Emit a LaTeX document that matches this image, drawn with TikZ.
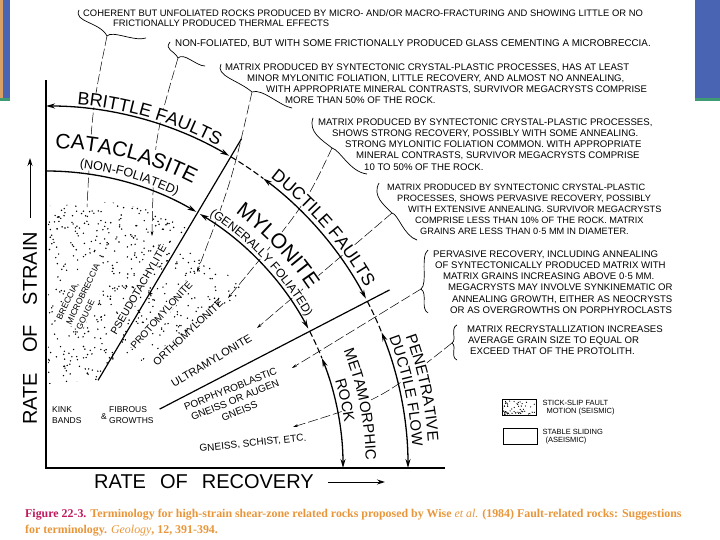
\documentclass[tikz,border=0pt]{standalone}
\usepackage{fontspec}
\setmainfont{Liberation Serif}
\setsansfont{Liberation Sans}
\usetikzlibrary{arrows.meta, decorations.text, calc}

\definecolor{barblue}{HTML}{4A64B4}
\definecolor{bargreen}{HTML}{3E9B73}
\definecolor{barorange}{HTML}{D9A066}
\definecolor{figred}{HTML}{C0185C}
\definecolor{figorange}{HTML}{E8963A}

\newcommand{\notefont}{\sffamily\fontsize{9.6}{11.2}\selectfont}
\newcommand{\lblfont}{\sffamily\fontsize{10}{12}\selectfont}
\newcommand{\arcfont}[1]{\sffamily\fontsize{#1}{#1}\selectfont}

\begin{document}
\begin{tikzpicture}[
    x=1pt, y=1pt,
    axis/.style={line width=1.6pt},
    axarrow/.style={line width=0.9pt, -{Stealth[length=8pt,width=5pt]}},
    fault/.style={line width=1.3pt, {Stealth[length=9pt,width=5pt]}-{Stealth[length=9pt,width=5pt]}},
    onefault/.style={line width=1.3pt, -{Stealth[length=9pt,width=5pt]}},
    gap/.style={line width=1.1pt, dash pattern=on 6pt off 3pt},
    ray/.style={line width=1.2pt},
    leader/.style={line width=0.5pt, dash pattern=on 10pt off 3pt},
    lead/.style={leader, -{Stealth[length=5pt,width=2.8pt]}},
    brc/.style={line width=0.7pt},
    wipe/.style={draw=white, line width=#1},
    note/.style={font=\notefont, align=left, anchor=north west, inner sep=0pt},
    lbl/.style={font=\lblfont, inner sep=0pt},
    dotlbl/.style={fill=white, inner sep=1pt},
    small/.style={font=\sffamily\fontsize{8.5}{11}\selectfont},
    arctext/.style={decorate, decoration={text along path, text align=center, text={#1}}},
    box/.style={draw, line width=0.8pt, minimum width=34pt, minimum height=16pt, inner sep=0pt},
    legend/.style={anchor=west, align=left, inner sep=0pt, font=\sffamily\fontsize{7.5}{8.5}\selectfont},
    caption/.style={anchor=base west, inner sep=0pt, text=figorange, font=\rmfamily\bfseries\fontsize{11.9}{14}\selectfont}
]
\useasboundingbox (0,0) rectangle (720,540);

\fill[barorange] (0,442) rectangle (3,540);
\fill[barblue] (3,442) rectangle (10,540);
\fill[bargreen] (0,439) rectangle (10,442);
\fill[barblue] (695,442) rectangle (720,540);
\fill[bargreen] (695,439) rectangle (720,442);

\pgfmathsetseed{17}
\begin{scope}
    \clip (48,334) -- (110,338) -- (160,328) -- (190.3,315) -- (98.3,160) -- (48,156) -- cycle;
    \foreach \k in {1,...,600}
        \fill ({48+143*rnd},{156+182*rnd}) circle (0.8);
\end{scope}
\begin{scope}
    \clip (176.6,292) -- (205,282) -- (242,255) -- (236,240) -- (185,207) -- (140,178) -- (109,178) -- cycle;
    \foreach \k in {1,...,280}
        \fill ({109+133*rnd},{178+114*rnd}) circle (0.8);
\end{scope}

\coordinate (c1) at (107,504);
\coordinate (c2) at (178,482);
\coordinate (c3) at (252,448);
\coordinate (c4) at (332,392);
\coordinate (c5) at (392,327);
\coordinate (c6) at (421,251);
\coordinate (c7) at (452,197);
\coordinate (t1) at (87,333);
\coordinate (t2) at (152,304);
\coordinate (t3) at (197,268);
\coordinate (t4) at (228,242);
\coordinate (t5) at (257,212);
\coordinate (t6) at (292,172);
\coordinate (t7) at (293,113);

\draw[leader] (c1) .. controls (92,430) .. (t1);
\draw[lead] (c2) .. controls (154,400) .. (t2);
\draw[lead] (c3) .. controls (232,360) .. (t3);
\draw[lead] (c4) .. controls (305,335) .. (t4);
\draw[lead] (c5) -- (t5);
\draw[lead] (c6) -- (t6);
\draw[lead] (c7) .. controls (380,140) .. (t7);

\begin{scope}[shift={(46,72)}]
    \draw[wipe=14pt] (86:371) arc[start angle=86, end angle=61, radius=371];
    \draw[wipe=36pt] (88:318.5) arc[start angle=88, end angle=63, radius=318.5];
    \draw[wipe=17pt] (55:325) arc[start angle=55, end angle=33, radius=325];
    \draw[wipe=11pt] (59:305) arc[start angle=59, end angle=28, radius=305];
    \draw[wipe=14pt] (52:373) arc[start angle=52, end angle=30, radius=373];
    \draw[wipe=29pt] (22:380.5) arc[start angle=22, end angle=2, radius=380.5];
    \draw[wipe=31pt] (22.5:316.5) arc[start angle=22.5, end angle=1, radius=316.5];

    \draw[fault] (90:362) arc[start angle=90, end angle=59.6, radius=362];
    \draw[gap] (59.3:362) arc[start angle=59.3, end angle=53.1, radius=362];
    \draw[fault] (53.1:362) arc[start angle=53.1, end angle=27.9, radius=362];
    \draw[gap] (27.4:362) arc[start angle=27.4, end angle=22, radius=362];
    \draw[fault] (22:362) arc[start angle=22, end angle=0, radius=362];
    \draw[onefault] (90:297) arc[start angle=90, end angle=59.6, radius=297];
    \draw[fault] (58.8:297) arc[start angle=58.8, end angle=28, radius=297];
    \draw[gap] (27.4:297) arc[start angle=27.4, end angle=21.7, radius=297];
    \draw[fault] (21.7:297) arc[start angle=21.7, end angle=0, radius=297];
    \draw[ray] (59.3:102) -- (59.3:383);
    \draw[ray] (27.4:128) -- (27.4:387);

    \path[arctext={|\arcfont{18}|BRITTLE FAULTS}] (88:365) arc[start angle=88, end angle=59, radius=365];
    \path[arctext={|\arcfont{21}|CATACLASITE}] (90:320) arc[start angle=90, end angle=61, radius=320];
    \path[arctext={|\arcfont{12.5}|(NON-FOLIATED)}] (88:302) arc[start angle=88, end angle=60, radius=302];
    \path[arctext={|\arcfont{17.5}|DUCTILE FAULTS}] (55:367) arc[start angle=55, end angle=26.7, radius=367];
    \path[arctext={|\arcfont{21}|MYLONITE}] (57:318) arc[start angle=57, end angle=30.6, radius=318];
    \path[arctext={|\arcfont{12}|(GENERALLY FOLIATED)}] (60:301) arc[start angle=60, end angle=27.2, radius=301];
    \path[arctext={|\arcfont{15}|METAMORPHIC}] (23:320) arc[start angle=23, end angle=0, radius=320];
    \path[arctext={|\arcfont{15}|ROCK}] (20:302) arc[start angle=20, end angle=5.5, radius=302];
    \path[arctext={|\arcfont{15}|DUCTILE FLOW}] (23:367) arc[start angle=23, end angle=1.2, radius=367];
    \path[arctext={|\arcfont{15.5}|PENETRATIVE}] (22:383) arc[start angle=22, end angle=2.1, radius=383];
\end{scope}

\draw[axis] (46,460) -- (46,72) -- (445,72);

\node[lbl, dotlbl, small, rotate=64, anchor=west, align=left] (breccia) at (68,215) {BRECCIA,\\MICROBRECCIA\\GOUGE};
\node[lbl, dotlbl, rotate=60, font=\sffamily\fontsize{10.5}{12}\selectfont] (pseudo) at (138.5,250) {PSEUDOTACHYLITE};
\node[lbl, dotlbl, rotate=48] (proto) at (161.5,225) {PROTOMYLONITE};
\node[lbl, rotate=43, font=\sffamily\fontsize{10.5}{12}\selectfont] (ortho) at (188,207.5) {ORTHOMYLONITE};
\node[lbl, rotate=31, font=\sffamily\fontsize{11}{12}\selectfont] (ultra) at (211.5,179) {ULTRAMYLONITE};
\node[lbl, rotate=22, align=center] (porphyro) at (235,140) {PORPHYROBLASTIC\\GNEISS OR AUGEN\\GNEISS};
\node[lbl, rotate=6] (gneiss) at (253,96.5) {GNEISS, SCHIST, ETC.};
\node[lbl, small, align=left, anchor=west] (kink) at (52,125) {KINK\\BANDS};
\node[lbl, small] (amp) at (104,123) {\&};
\node[lbl, small, align=left, anchor=west] (fibrous) at (109,125) {FIBROUS\\GROWTHS};

\draw[brc] (79,530) .. controls (73,518) and (100,518) .. (c1) .. controls (112,510) and (135,498) .. (146,502);
\draw[brc] (170,498) .. controls (164,490) and (174,490) .. (c2) .. controls (184,488) and (196,474) .. (205,474);
\draw[brc] (221,476) .. controls (215,464) and (238,460) .. (c3) .. controls (262,452) and (280,434) .. (292,432);
\draw[brc] (313,422) .. controls (308,408) and (322,400) .. (c4) .. controls (340,390) and (350,368) .. (367,366);
\draw[brc] (379,357) .. controls (372,344) and (384,335) .. (c5) .. controls (398,326) and (404,304) .. (417,300);
\draw[brc] (428,290) .. controls (420,284) and (428,256) .. (c6) .. controls (428,246) and (420,232) .. (428,227);
\draw[brc] (457,215) .. controls (450,212) and (457,200) .. (c7) .. controls (457,194) and (450,183) .. (457,180);

\node[note, font=\sffamily\fontsize{9.4}{10.5}\selectfont] (coherent) at (83,530.8) {COHERENT BUT UNFOLIATED ROCKS PRODUCED BY MICRO- AND/OR MACRO-FRACTURING AND SHOWING LITTLE OR NO\\
    \hspace*{30pt}FRICTIONALLY PRODUCED THERMAL EFFECTS};
\node[note, font=\sffamily\fontsize{9.8}{11}\selectfont] (nonfol) at (175,500.8) {NON-FOLIATED, BUT WITH SOME FRICTIONALLY PRODUCED GLASS CEMENTING A MICROBRECCIA.};
\node[note] (matrixa) at (225,476.6) {MATRIX PRODUCED BY SYNTECTONIC CRYSTAL-PLASTIC PROCESSES, HAS AT LEAST\\
    \hspace*{22pt}MINOR MYLONITIC FOLIATION, LITTLE RECOVERY, AND ALMOST NO ANNEALING,\\
    \hspace*{41pt}WITH APPROPRIATE MINERAL CONTRASTS, SURVIVOR MEGACRYSTS COMPRISE\\
    \hspace*{60pt}MORE THAN 50\% OF THE ROCK.};
\node[note] (matrixb) at (318,421.6) {MATRIX PRODUCED BY SYNTECTONIC CRYSTAL-PLASTIC PROCESSES,\\
    \hspace*{14pt}SHOWS STRONG RECOVERY, POSSIBLY WITH SOME ANNEALING.\\
    \hspace*{27pt}STRONG MYLONITIC FOLIATION COMMON. WITH APPROPRIATE\\
    \hspace*{38pt}MINERAL CONTRASTS, SURVIVOR MEGACRYSTS COMPRISE\\
    \hspace*{46pt}10 TO 50\% OF THE ROCK.};
\node[note, font=\sffamily\fontsize{9.2}{11.2}\selectfont] (matrixc) at (387,356.6) {MATRIX PRODUCED BY SYNTECTONIC CRYSTAL-PLASTIC\\
    \hspace*{10pt}PROCESSES, SHOWS PERVASIVE RECOVERY, POSSIBLY\\
    \hspace*{21pt}WITH EXTENSIVE ANNEALING. SURVIVOR MEGACRYSTS\\
    \hspace*{28pt}COMPRISE LESS THAN 10\% OF THE ROCK. MATRIX\\
    \hspace*{33pt}GRAINS ARE LESS THAN 0·5 MM IN DIAMETER.};
\node[note] (pervasive) at (433,289.6) {PERVASIVE RECOVERY, INCLUDING ANNEALING\\
    \hspace*{2pt}OF SYNTECTONICALLY PRODUCED MATRIX WITH\\
    \hspace*{10pt}MATRIX GRAINS INCREASING ABOVE 0·5 MM.\\
    \hspace*{15pt}MEGACRYSTS MAY INVOLVE SYNKINEMATIC OR\\
    \hspace*{19pt}ANNEALING GROWTH, EITHER AS NEOCRYSTS\\
    \hspace*{17pt}OR AS OVERGROWTHS ON PORPHYROCLASTS};
\node[note] (recryst) at (467,214.6) {MATRIX RECRYSTALLIZATION INCREASES\\
    \hspace*{1pt}AVERAGE GRAIN SIZE TO EQUAL OR\\
    \hspace*{3pt}EXCEED THAT OF THE PROTOLITH.};

\node[anchor=west, rotate=90, inner sep=0pt, font=\arcfont{20}] (strain) at (30,115) {RATE\hspace{20pt}OF\hspace{20pt}STRAIN};
\coordinate (strainend) at (30,382);
\draw[axarrow] ($(strain.east)+(0,14)$) -- (strainend);
\node[anchor=west, inner sep=0pt, font=\arcfont{20}] (recovery) at (94,58) {RATE\hspace{14pt}OF\hspace{14pt}RECOVERY};
\coordinate (recend) at (385,58);
\draw[axarrow] ($(recovery.east)+(14,0)$) -- (recend);

\node[box] (seis) at (519,132.5) {};
\begin{scope}
    \clip (seis.south west) rectangle (seis.north east);
    \foreach \k in {1,...,55}
        \fill ({502+34*rnd},{124.5+16*rnd}) circle (0.65);
\end{scope}
\node[legend] (seistext) at ([xshift=6pt]seis.east) {STICK-SLIP FAULT\\\hspace*{4pt}MOTION (SEISMIC)};
\node[box] (aseis) at (520,103.5) {};
\node[legend] (aseistext) at ([xshift=5pt]aseis.east) {STABLE SLIDING\\\hspace*{3pt}(ASEISMIC)};

\node[caption] (cap1) at (25,22) {\textcolor{figred}{Figure 22-3.} Terminology for high-strain shear-zone related rocks proposed by Wise {\mdseries\itshape et al.} (1984) Fault-related rocks: Suggestions};
\node[caption] (cap2) at (25,6) {for terminology. {\mdseries\itshape Geology}, 12, 391-394.};
\end{tikzpicture}
\end{document}
